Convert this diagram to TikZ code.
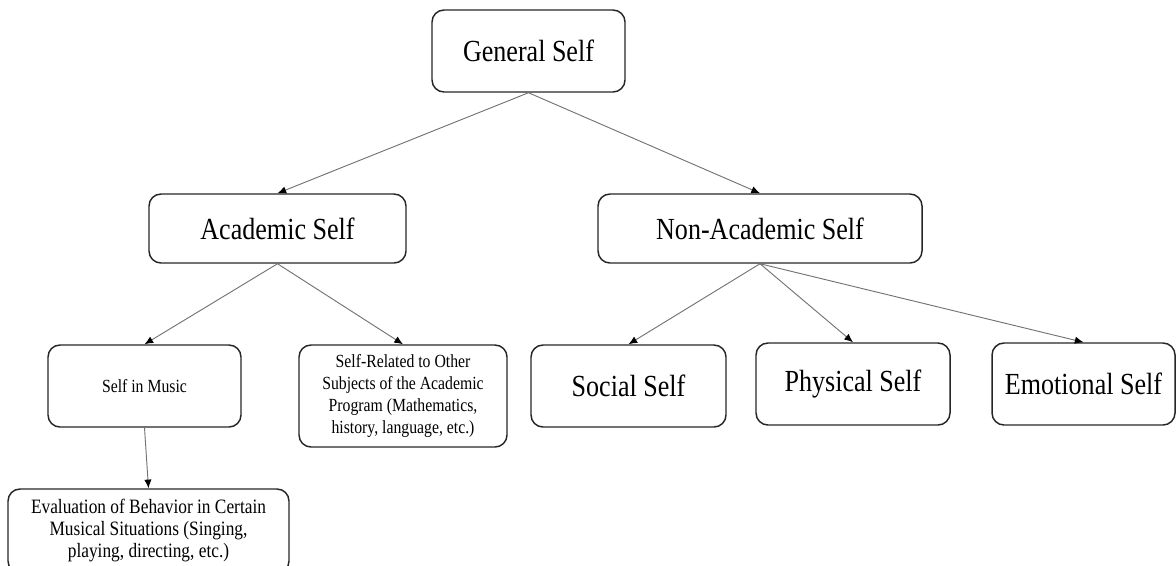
\documentclass[tikz,border=0pt]{standalone}
\usepackage{fontspec}
\setmainfont{Liberation Serif}[FakeStretch=0.85]
\usepackage{tikz}
\usetikzlibrary{arrows.meta}

\begin{document}
\begin{tikzpicture}[x=0.75pt,y=-0.75pt,
	box/.style={draw=black!85, line width=1.1pt, rounded corners=9pt, inner sep=0pt, align=center},
	big/.style={box, font=\fontsize{23}{27}\selectfont},
	small/.style={box, font=\fontsize{13.9}{16.3}\selectfont},
	link/.style={draw=black!55, line width=0.7pt, -{Latex[length=6.5pt,width=5.5pt,black]}}]
	
	\useasboundingbox (0,0) rectangle (1176,565);
	\clip (0,0) rectangle (1176,565);
	
	\coordinate (g) at (528.5,51);
	\coordinate (a) at (277.5,228.5);
	\coordinate (n) at (760,228.5);
	\coordinate (m) at (144.5,386);
	\coordinate (o) at (403,396);
	\coordinate (s) at (628.5,386);
	\coordinate (p) at (853,384);
	\coordinate (e) at (1083.5,384);
	\coordinate (v) at (148.5,531);
	
	\node[big, minimum width=144.75pt, minimum height=61.5pt] (gen) at (g) {General Self};
	\node[big, minimum width=192.75pt, minimum height=51.75pt] (acad) at (a) {Academic Self};
	\node[big, minimum width=243pt, minimum height=51.75pt] (nonacad) at (n) {Non-Academic Self};
	
	\node[small, minimum width=144.75pt, minimum height=61.5pt] (music) at (m) {Self in Music};
	\node[small, minimum width=156pt, minimum height=76.5pt] (other) at (o) {Self-Related to Other\\Subjects of the Academic\\Program (Mathematics,\\history, language, etc.)};
	\node[big, minimum width=146.25pt, minimum height=61.5pt] (social) at (s) {Social Self};
	\node[big, minimum width=145.5pt, minimum height=61.5pt] (phys) at (p) {Physical Self};
	\node[big, minimum width=137.25pt, minimum height=61.5pt] (emo) at (e) {Emotional Self};
	
	\node[box, font=\fontsize{15.3}{16.5}\selectfont, minimum width=210.75pt, minimum height=63pt] (eval) at (v) {Evaluation of Behavior in Certain\\Musical Situations (Singing,\\playing, directing, etc.)};
	
	\draw[link] (gen.south) -- (acad.north);
	\draw[link] (gen.south) -- (nonacad.north);
	\draw[link] (acad.south) -- (music.north);
	\draw[link] (acad.south) -- (other.north);
	\draw[link] (nonacad.south) -- (social.north);
	\draw[link] (nonacad.south) -- (phys.north);
	\draw[link] (nonacad.south) -- (emo.north);
	\draw[link] (music.south) -- (eval.north);
	
\end{tikzpicture}
\end{document}
